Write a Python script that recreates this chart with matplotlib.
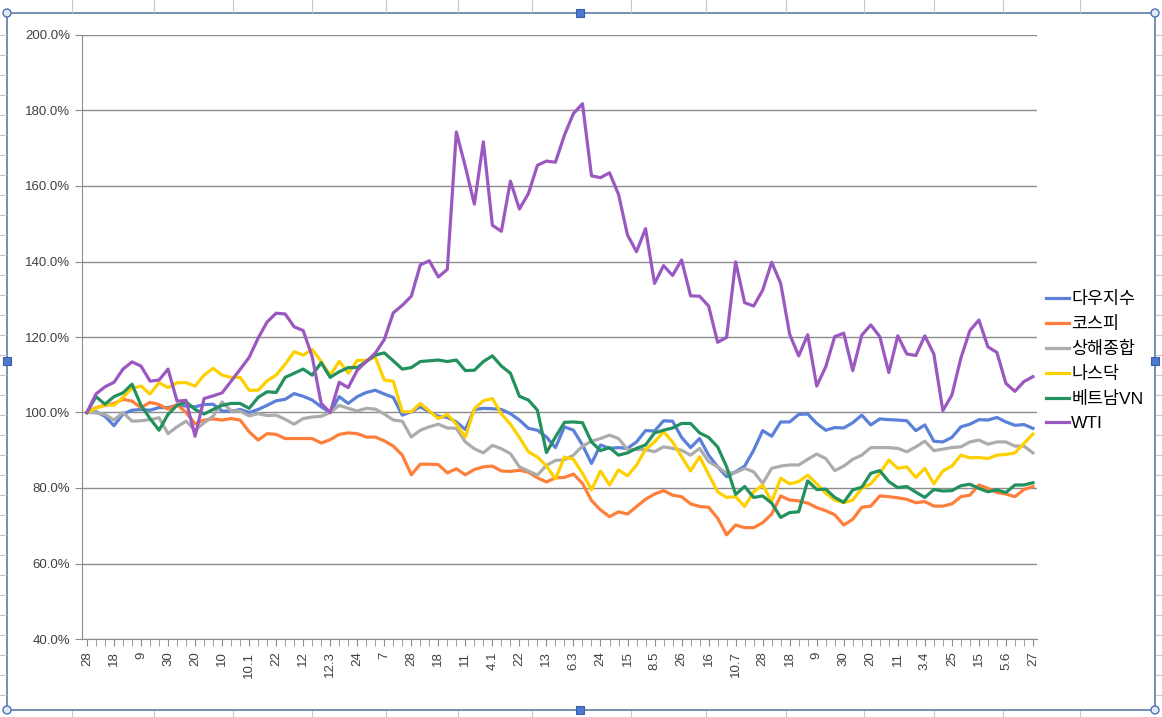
import matplotlib
matplotlib.use("Agg")
import matplotlib.pyplot as plt
from matplotlib.patches import Rectangle, Circle
from matplotlib.lines import Line2D
import numpy as np

plt.rcParams['font.family'] = ['Liberation Sans', 'Noto Sans CJK KR', 'DejaVu Sans']

# weekly index values (%), first week = 100
dow = [100, 100.2, 99, 96.5, 99.6, 100.6, 100.8, 100.6, 101.3, 101.3, 101.9, 101.7, 101.5, 102.1,
       102.2, 100.4, 100.3, 100.8, 100, 100.8, 101.9, 103.1, 103.5, 105, 104.3, 103.3, 101.5, 100,
       104.2, 102.4, 104.2, 105.3, 105.9, 104.9, 104, 99.3, 100.2, 101.5, 100.2, 99, 98.7, 97.5,
       95.5, 100.8, 101.1, 101, 100.8, 99.7, 98, 95.8, 95.3, 93.5, 90.7,
       96.2, 95.3, 91.4, 86.5, 91.4, 90.5, 90.7, 90.5, 92.2, 95.2, 95.1, 97.8, 97.7, 93.4, 90.7,
       93.1, 88.7, 85.6, 83, 84.3, 85.8, 90, 95.2, 93.7, 97.5, 97.5, 99.5,
       99.6, 97.1, 95.3, 96, 95.9, 97.3, 99.3, 96.7, 98.3, 98.1, 98, 97.8, 95.2, 96.7, 92.4, 92.2,
       93.4, 96.2, 96.9, 98.1, 98, 98.7, 97.5, 96.6, 96.8, 95.8]
kospi = [100, 101.3, 101.9, 102.4, 103.5, 103, 101.3, 102.7, 102.1, 100.9, 102.1, 100, 97, 98,
         98.3, 98, 98.4, 98, 94.9, 92.7, 94.4, 94.2, 93.1, 93.1, 93.1, 93.1, 91.9, 92.8,
         94.2, 94.6, 94.4, 93.5, 93.5, 92.5, 91.1, 88.7, 83.5, 86.3, 86.3, 86.2, 84, 85.1, 83.5,
         84.9, 85.6, 85.8, 84.5, 84.4, 84.7, 84.2, 82.7, 81.6, 82.7,
         82.8, 83.7, 81.2, 76.7, 74.2, 72.4, 73.7, 73.1, 75.1, 77, 78.4, 79.3, 78.1, 77.7, 75.8,
         75.1, 74.9, 72, 67.6, 70.2, 69.5, 69.5, 70.8, 73.1, 77.9, 76.8, 76.6,
         76, 74.8, 74, 72.9, 70.2, 71.7, 74.9, 75.2, 77.9, 77.7, 77.4, 77, 76.1, 76.4, 75.2, 75.2,
         75.8, 77.7, 78.1, 80.8, 79.9, 78.8, 78.4, 77.7, 79.6, 80.4]
shanghai = [100, 99.9, 99.5, 98, 100, 97.7, 97.8, 98.1, 98.6, 94.4, 96.2, 97.7, 95.3, 97.3, 99,
            102.8, 100.4, 100.4, 99.1, 99.7, 99.2, 99.3, 98.2, 96.9, 98.4, 98.8, 99, 100,
            101.9, 101.1, 100.4, 101.1, 100.9, 99.6, 98, 97.7, 93.5, 95.3, 96.2, 96.9, 95.9, 95.8,
            92.2, 90.4, 89.3, 91.3, 90.4, 89.1, 85.6, 84.5, 83.4, 86, 87.3,
            87.5, 88.7, 91.1, 92.4, 93.1, 94, 93.1, 90.2, 90.2, 90.2, 89.6, 90.9, 90.5, 90, 88.7,
            90.5, 87, 85.6, 83.9, 84.1, 85.2, 84.3, 81.2, 85.2, 85.8, 86.1, 86.1,
            87.6, 89, 87.8, 84.6, 85.8, 87.6, 88.7, 90.7, 90.7, 90.7, 90.5, 89.6, 90.9, 92.4, 89.9,
            90.3, 90.7, 90.9, 92.2, 92.7, 91.6, 92.2, 92.2, 91.1, 91.1, 89.3]
nasdaq = [100, 101.1, 102.1, 101.9, 104, 106.4, 107, 104.9, 107.9, 106.6, 107.9, 107.9, 107,
          109.9, 111.7, 109.9, 109.3, 109.3, 105.9, 105.9, 108.4, 109.9, 112.8, 116.1, 115.2,
          116.7, 113.5, 109.8,
          113.6, 110.4, 113.8, 113.8, 114.7, 108.6, 108.3, 100.2, 100.2, 102.4, 100.4, 98.4, 99.5,
          96.9, 93.5, 101, 103.1, 103.7, 99.6, 96.9, 93.4, 89.6, 88.2, 85.8, 82.4,
          88.2, 87.6, 83.9, 79.5, 84.5, 80.8, 84.8, 83.2, 86.1, 90.2, 92.2, 94.9, 92.2, 88.3, 84.5,
          88.3, 83.6, 79, 77.5, 77.7, 75.1, 79, 80.8, 76.4, 82.6, 81.1, 81.7,
          83.4, 81.1, 78.6, 76.8, 76.1, 76.8, 79.9, 81.1, 83.9, 87.4, 85.2, 85.6, 82.8, 85.2, 81.1,
          84.5, 85.8, 88.7, 88, 88.1, 87.8, 88.7, 88.9, 89.3, 91.8, 94.3]
vietnam = [100, 104.2, 102.2, 104.2, 105.2, 107.5, 101.9, 98.4, 95.3, 99.5, 101.9, 102.8, 100.8,
           99.6, 100.8, 101.9, 102.4, 102.4, 101.1, 104, 105.5, 105.3, 109.3, 110.4, 111.5, 109.9,
           113.2, 109.3,
           110.8, 111.9, 111.9, 113.5, 115.2, 115.8, 113.7, 111.5, 111.9, 113.5, 113.7, 113.9,
           113.5, 113.9, 111.1, 111.2, 113.5, 115, 112.3, 110.4, 104.3, 103.3, 100.6, 89.4, 93.5,
           97.4, 97.5, 97.3, 92.2, 89.9, 90.7, 88.7, 89.3, 90.5, 91.4, 94.6, 95.3, 95.9, 97.1, 97.1,
           94.6, 93.4, 90.9, 85.6, 78.3, 80.4, 77.5, 77.9, 76, 72.2, 73.5, 73.7,
           81.9, 79.6, 79.7, 77.5, 76.2, 79.5, 80.2, 83.9, 84.6, 81.7, 80.1, 80.4, 78.9, 77.5, 79.6,
           79.2, 79.3, 80.6, 81, 79.9, 79, 79.5, 78.8, 80.8, 80.8, 81.4]
wti = [100, 104.9, 106.8, 108, 111.5, 113.4, 112.3, 108.3, 108.6, 111.5, 103, 103.2, 93.7, 103.7,
       104.4, 105.2, 108.3, 111.4, 114.6, 119.7, 124, 126.3, 126.1, 122.7, 121.7, 114.8, 102.4, 100,
       108, 106.6, 111.2, 113.5, 115.7, 119.3,
       126.4, 128.4, 130.8, 139.1, 140.2, 135.9, 137.9, 174.3, 165.1, 155.2, 171.7, 149.6, 148,
       161.3, 153.9, 158, 165.5, 166.6, 166.3, 173.5, 179.2, 181.8, 162.7, 162.2, 163.5, 157.8,
       147, 142.6, 148.7,
       134.2, 138.9, 136.3, 140.4, 130.9, 130.8, 128.2, 118.6, 119.9, 139.9, 129.1, 128.2, 132.4,
       139.8, 134.2, 120.7, 115, 120.6, 107, 112.1, 120.1, 121, 111.1, 120.5, 123.2, 120.1, 110.6,
       120.3, 115.5, 115.1, 120.3, 115.5, 100.5, 104.6, 114.4, 121.7, 124.5, 117.4, 115.9, 107.7,
       105.6, 108.2, 109.5]

tick_labels = ['28', '18', '9', '30', '20', '10', '10.1', '22', '12', '12.3', '24', '7',
               '28', '18', '11', '4.1', '22', '13', '6.3', '24', '15', '8.5', '26', '16',
               '10.7', '28', '18', '9', '30', '20', '11', '3.4', '25', '15', '5.6', '27']

names = ['다우지수', '코스피', '상해종합', '나스닥', '베트남VN', 'WTI']
colors = ['#5B80D9', '#FF7F3A', '#ACACAC', '#FFD000', '#22915E', '#9B58C0']
series = [dow, kospi, shanghai, nasdaq, vietnam, wti]

W, H = 1162, 717
fig = plt.figure(figsize=(W / 100, H / 100), dpi=100)
ax = fig.add_axes([82 / W, 1 - 639 / H, (1037 - 82) / W, (639 - 35) / H])

n = len(dow)
x = np.arange(n)
for s, c, name in zip(series, colors, names):
    ax.plot(x[:len(s)], s, color=c, lw=2.3, label=name, solid_joinstyle='round')

ax.set_ylim(40, 200)
ax.set_xlim(-0.55, n - 1 + 0.45)
ax.set_yticks(np.arange(40, 201, 20))
ax.set_yticklabels([f'{v:.1f}%' for v in np.arange(40, 201, 20)])
ax.set_xticks(np.arange(0, n, 3))
ax.set_xticklabels(tick_labels, rotation=90)
ax.set_xticks(np.arange(n), minor=True)

ax.grid(axis='y', color='#8c8c8c', lw=1.0)
ax.set_axisbelow(True)
for side in ['top', 'right']:
    ax.spines[side].set_visible(False)
for side in ['left', 'bottom']:
    ax.spines[side].set_color('#8c8c8c')
ax.tick_params(axis='both', which='both', direction='out', length=5, color='#8c8c8c',
               labelcolor='#404040', labelsize=9.5)
ax.tick_params(axis='x', pad=4)

fig.legend(loc='upper left', bbox_to_anchor=(1046 / W, 1 - 291 / H), frameon=False,
           fontsize=12.5, handlelength=1.3, handletextpad=0.15, labelspacing=0.52,
           borderpad=0, borderaxespad=0)

# chart frame with selection handles
fig.add_artist(Rectangle((7 / W, 1 - 710 / H), 1148 / W, 697 / H, transform=fig.transFigure,
                         fill=False, edgecolor='#5E7CA6', lw=1.2))
for px, py in [(580, 13), (580, 710), (7, 361), (1155, 361)]:
    fig.add_artist(Rectangle(((px - 4) / W, 1 - (py + 4) / H), 8 / W, 8 / H,
                             transform=fig.transFigure, facecolor='#4F78CF', edgecolor='#3A5FA8',
                             lw=0.8))
for px, py in [(7, 13), (1155, 13), (7, 710), (1155, 710)]:
    fig.add_artist(Circle((px, H - py), 4, transform=None, facecolor='#E3EAF7',
                          edgecolor='#4F72B8', lw=1.0))

# spreadsheet cell lines peeking out around the frame
for py in range(35, 710, 20):
    fig.add_artist(Line2D([0, 6 / W], [1 - py / H] * 2, transform=fig.transFigure,
                          color='#C8C8C8', lw=0.8))
    fig.add_artist(Line2D([1156 / W, 1], [1 - py / H] * 2, transform=fig.transFigure,
                          color='#C8C8C8', lw=0.8))
for px in [72, 154, 233, 312, 386, 458, 532, 631, 706, 786, 864, 934, 1003, 1080]:
    fig.add_artist(Line2D([px / W] * 2, [1, 1 - 12 / H], transform=fig.transFigure,
                          color='#C8C8C8', lw=0.8))
    fig.add_artist(Line2D([px / W] * 2, [0, 6 / H], transform=fig.transFigure,
                          color='#C8C8C8', lw=0.8))

fig.savefig('out.png', dpi=100)
